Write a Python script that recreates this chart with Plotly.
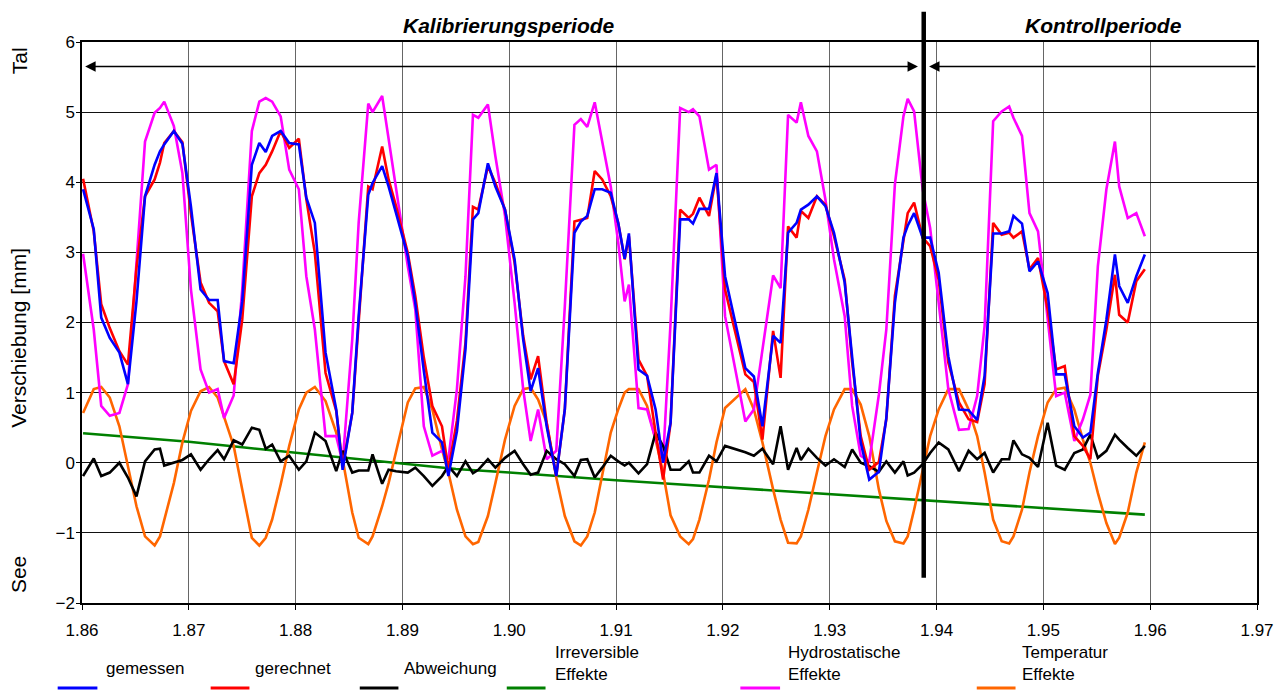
import plotly.graph_objects as go

# ---------------- data ----------------
t = [1.8601, 1.8611, 1.8618, 1.8626, 1.8635, 1.8643, 1.8651, 1.8659, 1.8668, 1.8673,
     1.8677, 1.8686, 1.8694, 1.8702, 1.8711, 1.8719, 1.8727, 1.8733, 1.8742, 1.8750,
     1.8759, 1.8766, 1.8772, 1.8778, 1.8786,
     1.8794, 1.8803, 1.8810, 1.8818, 1.8828, 1.8838, 1.8844, 1.8853, 1.8859, 1.8868,
     1.8872, 1.8881, 1.8887, 1.8894, 1.8905, 1.8912, 1.8920, 1.8928, 1.8937, 1.8943,
     1.8951, 1.8959, 1.8966,
     1.8971, 1.8980, 1.8987, 1.8996, 1.9005, 1.9013, 1.9020, 1.9027, 1.9035, 1.9044,
     1.9052, 1.9061, 1.9067, 1.9073, 1.9080, 1.9087, 1.9095, 1.9102, 1.9108, 1.9112,
     1.9121, 1.9129, 1.9137, 1.9144, 1.9151,
     1.9160, 1.9168, 1.9172, 1.9178, 1.9187, 1.9194, 1.9202, 1.9221, 1.9229, 1.9237,
     1.9247, 1.9254, 1.9261, 1.9269, 1.9273, 1.9280, 1.9288, 1.9296, 1.9304, 1.9314,
     1.9321, 1.9329, 1.9337,
     1.9346, 1.9353, 1.9361, 1.9369, 1.9373, 1.9379, 1.9387, 1.9394, 1.9402, 1.9411,
     1.9421, 1.9430, 1.9438, 1.9445, 1.9453, 1.9461, 1.9468, 1.9472, 1.9480, 1.9487,
     1.9495, 1.9504, 1.9512, 1.9520,
     1.9529, 1.9537, 1.9544, 1.9551, 1.9559, 1.9567, 1.9571, 1.9579, 1.9587, 1.9595]

gemessen = [3.90, 3.33, 2.07, 1.78, 1.57, 1.12, 2.30, 3.80, 4.25, 4.44,
            4.54, 4.73, 4.55, 3.65, 2.47, 2.32, 2.32, 1.45, 1.42, 2.30,
            4.25, 4.56, 4.43, 4.66, 4.73,
            4.56, 4.54, 3.78, 3.42, 1.57, 0.76, -0.10, 0.71, 2.09, 3.82,
            3.99, 4.23, 3.94, 3.56, 2.95, 2.28, 1.31, 0.43, 0.29, -0.19,
            0.45, 1.62, 3.47,
            3.56, 4.27, 3.94, 3.61, 2.90, 1.76, 1.02, 1.35, 0.52, -0.19,
            0.76, 3.28, 3.44, 3.52, 3.90, 3.90, 3.85, 3.42, 2.91, 3.27,
            1.33, 1.24, 0.76, 0.00, 0.57,
            3.47, 3.47, 3.41, 3.62, 3.62, 4.13, 2.66, 1.35, 1.23, 0.52,
            1.81, 1.71, 3.28, 3.42, 3.61, 3.68, 3.80, 3.66, 3.28, 2.57,
            1.52, 0.29, -0.24,
            -0.13, 0.64, 2.28, 3.21, 3.38, 3.56, 3.21, 3.21, 2.71, 1.52,
            0.76, 0.75, 0.61, 1.24, 3.27, 3.27, 3.30, 3.52, 3.41, 2.73,
            2.87, 2.42, 1.26, 1.26,
            0.52, 0.36, 0.43, 1.28, 2.04, 2.97, 2.52, 2.28, 2.66, 2.97]

gerechnet = [4.05, 3.30, 2.26, 1.92, 1.59, 1.40, 2.78, 3.80, 4.04, 4.28,
             4.56, 4.73, 4.57, 3.55, 2.57, 2.28, 2.16, 1.45, 1.12, 2.04,
             3.80, 4.13, 4.25, 4.44, 4.73,
             4.49, 4.62, 3.76, 2.99, 1.28, 0.74, -0.05, 0.71, 2.00, 3.94,
             3.90, 4.51, 4.04, 3.66, 2.99, 2.38, 1.50, 0.81, 0.52, -0.10,
             0.60, 1.71, 3.65,
             3.61, 4.23, 3.99, 3.61, 2.85, 1.81, 1.19, 1.52, 0.57, -0.19,
             0.76, 3.44, 3.47, 3.49, 4.16, 4.04, 3.80, 3.42, 2.90, 3.23,
             1.47, 1.24, 0.43, -0.24, 0.57,
             3.61, 3.49, 3.55, 3.78, 3.52, 4.11, 2.47, 1.26, 1.15, 0.33,
             1.88, 1.21, 3.37, 3.21, 3.59, 3.49, 3.80, 3.68, 3.23, 2.61,
             1.43, 0.38, -0.10,
             0.01, 0.62, 2.38, 3.19, 3.56, 3.71, 3.21, 3.09, 2.61, 1.43,
             0.86, 0.62, 0.58, 1.12, 3.42, 3.25, 3.28, 3.21, 3.30, 2.76,
             2.92, 2.19, 1.33, 1.38,
             0.38, 0.24, 0.05, 1.24, 1.90, 2.68, 2.11, 2.00, 2.59, 2.76]

abweichung = [-0.19, 0.06, -0.19, -0.14, 0.00, -0.21, -0.48, 0.02, 0.19, 0.20,
              -0.04, 0.00, 0.04, 0.12, -0.10, 0.05, 0.18, 0.05, 0.32, 0.26,
              0.50, 0.47, 0.20, 0.26, 0.02,
              0.10, -0.10, 0.02, 0.43, 0.31, -0.12, 0.17, -0.14, -0.11, -0.11,
              0.12, -0.30, -0.10, -0.12, -0.14, -0.07, -0.19, -0.33, -0.19, -0.05,
              -0.19, 0.02, -0.15,
              -0.10, 0.05, -0.07, 0.07, 0.17, -0.02, -0.17, -0.14, 0.17, 0.05,
              -0.02, -0.19, 0.04, 0.05, -0.21, -0.07, 0.10, 0.02, -0.04, 0.00,
              -0.15, -0.02, 0.43, 0.24, -0.10,
              -0.10, 0.02, -0.14, -0.14, 0.10, 0.02, 0.24, 0.15, 0.10, 0.20,
              -0.02, 0.52, -0.10, 0.21, 0.04, 0.20, 0.07, -0.04, 0.05, -0.06,
              0.19, 0.00, -0.05,
              -0.13, 0.02, -0.14, 0.02, -0.18, -0.14, -0.02, 0.14, 0.29, 0.19,
              -0.12, 0.17, 0.05, 0.14, -0.14, 0.05, 0.05, 0.32, 0.12, 0.07,
              -0.06, 0.57, -0.04, -0.10,
              0.14, 0.19, 0.40, 0.07, 0.17, 0.40, 0.33, 0.21, 0.10, 0.24]

hydrostatisch = [2.98, 1.90, 0.81, 0.67, 0.71, 1.12, 2.85, 4.58, 4.99, 5.06,
                 5.15, 4.80, 4.13, 2.47, 1.33, 1.00, 1.05, 0.64, 0.96, 2.47,
                 4.73, 5.15, 5.20, 5.15, 4.94,
                 4.18, 3.90, 2.66, 1.90, 0.38, 0.38, 0.00, 1.76, 3.42, 5.12,
                 5.00, 5.23, 4.61, 3.90, 2.80, 2.19, 0.52, 0.10, 0.17, 0.05,
                 1.05, 2.66, 4.96,
                 4.92, 5.11, 4.37, 3.52, 2.28, 1.05, 0.31, 0.76, 0.05, 0.17,
                 2.23, 4.82, 4.90, 4.79, 5.14, 4.56, 3.94, 3.14, 2.30, 2.54,
                 0.78, 0.76, 0.33, 0.05, 2.00,
                 5.06, 5.00, 5.04, 4.94, 4.18, 4.25, 2.09, 0.59, 0.76, 1.60,
                 2.67, 2.49, 4.96, 4.85, 5.14, 4.66, 4.44, 3.75, 2.90, 2.09,
                 0.81, 0.10, 0.02,
                 0.97, 1.90, 3.97, 4.94, 5.19, 5.01, 3.90, 3.35, 2.28, 1.05,
                 0.47, 0.48, 0.95, 1.95, 4.87, 5.01, 5.08, 4.92, 4.66, 3.56,
                 3.30, 2.04, 0.95, 1.00,
                 0.31, 0.62, 0.97, 2.80, 3.90, 4.58, 3.94, 3.49, 3.56, 3.23]

temperatur = [0.71, 1.05, 1.08, 0.93, 0.52, -0.05, -0.62, -1.05, -1.18, -1.05,
              -0.81, -0.29, 0.29, 0.74, 1.02, 1.08, 0.93, 0.64, 0.24, -0.38,
              -1.07, -1.18, -1.07, -0.81, -0.31,
              0.24, 0.76, 1.00, 1.08, 0.88, 0.43, 0.05, -0.71, -1.07, -1.16,
              -1.05, -0.62, -0.29, 0.14, 0.86, 1.06, 1.08, 0.76, 0.19, -0.14,
              -0.67, -1.05, -1.16,
              -1.13, -0.76, -0.29, 0.33, 0.81, 1.05, 1.07, 0.90, 0.57, -0.21,
              -0.76, -1.12, -1.18, -1.05, -0.71, -0.19, 0.43, 0.76, 1.00, 1.05,
              1.05, 0.81, 0.33, -0.14, -0.75,
              -1.05, -1.16, -1.09, -0.81, -0.24, 0.29, 0.78, 1.05, 0.76, 0.29,
              -0.38, -0.81, -1.14, -1.15, -1.05, -0.67, -0.14, 0.38, 0.76, 1.05,
              1.05, 0.83, 0.38,
              -0.38, -0.83, -1.12, -1.15, -1.05, -0.67, -0.10, 0.38, 0.76, 1.05,
              1.05, 0.76, 0.38, -0.14, -0.81, -1.12, -1.15, -1.05, -0.67, -0.14,
              0.38, 0.86, 1.05, 1.07,
              0.76, 0.33, 0.00, -0.43, -0.86, -1.16, -1.07, -0.71, -0.14, 0.29]

t_irr = [1.8601, 1.865, 1.870, 1.875, 1.880, 1.885, 1.890, 1.895, 1.900, 1.905,
         1.910, 1.915, 1.920, 1.925, 1.930, 1.935, 1.940, 1.945, 1.950, 1.955, 1.9595]
irreversibel = [0.42, 0.36, 0.30, 0.22, 0.14, 0.06, -0.02, -0.09, -0.14, -0.20,
                -0.25, -0.30, -0.35, -0.40, -0.45, -0.50, -0.55, -0.60, -0.65, -0.69, -0.74]

x_ticks = [1.86, 1.87, 1.88, 1.89, 1.90, 1.91, 1.92, 1.93, 1.94, 1.95, 1.96, 1.97]
y_ticks = [-2, -1, 0, 1, 2, 3, 4, 5, 6]
grenze = 1.9388          # Kalibrierung / Kontrolle
pfeil_y = 5.65

names = ["gemessen", "gerechnet", "Abweichung", "Irreversible<br>Effekte",
         "Hydrostatische<br>Effekte", "Temperatur<br>Effekte"]
colors = ["#0000FF", "#FF0000", "#000000", "#008000", "#FF00FF", "#FF6600"]

FONT = "Liberation Sans, Arial, sans-serif"

fig = go.Figure()
lw = 2.6
fig.add_trace(go.Scatter(x=t_irr, y=irreversibel, mode="lines", line=dict(color=colors[3], width=lw), name=names[3]))
fig.add_trace(go.Scatter(x=t, y=temperatur, mode="lines", line=dict(color=colors[5], width=lw), name=names[5]))
fig.add_trace(go.Scatter(x=t, y=hydrostatisch, mode="lines", line=dict(color=colors[4], width=lw), name=names[4]))
fig.add_trace(go.Scatter(x=t, y=abweichung, mode="lines", line=dict(color=colors[2], width=lw), name=names[2]))
fig.add_trace(go.Scatter(x=t, y=gerechnet, mode="lines", line=dict(color=colors[1], width=lw), name=names[1]))
fig.add_trace(go.Scatter(x=t, y=gemessen, mode="lines", line=dict(color=colors[0], width=lw), name=names[0]))

# period boundary line (extends above plot)
fig.add_shape(type="line", xref="x", yref="paper", x0=grenze, x1=grenze, y0=0.045, y1=1.054,
              line=dict(color="black", width=4.5), layer="above")

# arrows
fig.add_annotation(x=1.8603, y=pfeil_y, ax=grenze - 0.0004, ay=pfeil_y, xref="x", yref="y",
                   axref="x", ayref="y", text="", showarrow=True, arrowhead=2, startarrowhead=2,
                   arrowside="end+start", arrowwidth=1.6, arrowsize=1.3, startarrowsize=1.3,
                   arrowcolor="black", standoff=0, startstandoff=0)
fig.add_annotation(x=grenze + 0.0005, y=pfeil_y, ax=1.97, ay=pfeil_y, xref="x", yref="y",
                   axref="x", ayref="y", text="", showarrow=True, arrowhead=2,
                   arrowwidth=1.6, arrowsize=1.3, arrowcolor="black", standoff=0)

# period titles
for txt, xp in [("<b><i>Kalibrierungsperiode</i></b>", 0.3632), ("<b><i>Kontrollperiode</i></b>", 0.869)]:
    fig.add_annotation(x=xp, y=1.030, xref="paper", yref="paper", text=txt, showarrow=False,
                       xanchor="center", yanchor="middle",
                       font=dict(family=FONT, size=21, color="black"))

# y axis texts
for txt, yp in [("Verschiebung [mm]", 0.473), ("Tal", 0.966), ("See", 0.050)]:
    fig.add_annotation(x=-0.0535, y=yp, xref="paper", yref="paper", text=txt, textangle=-90,
                       showarrow=False, xanchor="center", yanchor="middle",
                       font=dict(family=FONT, size=21, color="black"))

# manual legend (keys below text)
key_x = [(-0.0207, 0.0131), (0.1095, 0.1425), (0.2364, 0.2693), (0.3615, 0.3945), (0.5603, 0.5941), (0.7615, 0.7945)]
txt_x = [0.019, 0.1459, 0.2727, 0.4012, 0.5991, 0.7987]
for i in range(len(names)):
    fig.add_shape(type="line", xref="paper", yref="paper", x0=key_x[i][0], x1=key_x[i][1],
                  y0=-0.1515, y1=-0.1515, line=dict(color=colors[i], width=3))
    two = "<br>" in names[i]
    fig.add_annotation(x=txt_x[i], y=-0.1159 if not two else -0.1087, xref="paper", yref="paper",
                       text=names[i], showarrow=False, xanchor="left", yanchor="middle", align="left",
                       font=dict(family=FONT, size=17, color="black"))

# page body has an 8px margin: shrink figure so the plot area lands where the reference has it
fig.update_layout(
    width=1278, height=683,
    margin=dict(l=74, r=21, t=34, b=88),
    paper_bgcolor="white", plot_bgcolor="white",
    showlegend=False,
    font=dict(family=FONT, size=17, color="black"),
    xaxis=dict(range=[1.86, 1.97], tickvals=x_ticks, tickformat=".2f",
               showgrid=True, gridcolor="#666666", gridwidth=1,
               showline=True, linecolor="black", linewidth=1.5, mirror=True,
               ticks="outside", ticklen=5, tickcolor="black", ticklabelstandoff=6,
               zeroline=False, tickfont=dict(family=FONT, size=17)),
    yaxis=dict(range=[-2, 6], tickvals=y_ticks,
               showgrid=True, gridcolor="#111111", gridwidth=1,
               showline=True, linecolor="black", linewidth=1.5, mirror=True,
               ticks="outside", ticklen=4, tickcolor="black", ticklabelstandoff=-2,
               zeroline=False, tickfont=dict(family=FONT, size=17)),
)

fig.write_html("out.html")
